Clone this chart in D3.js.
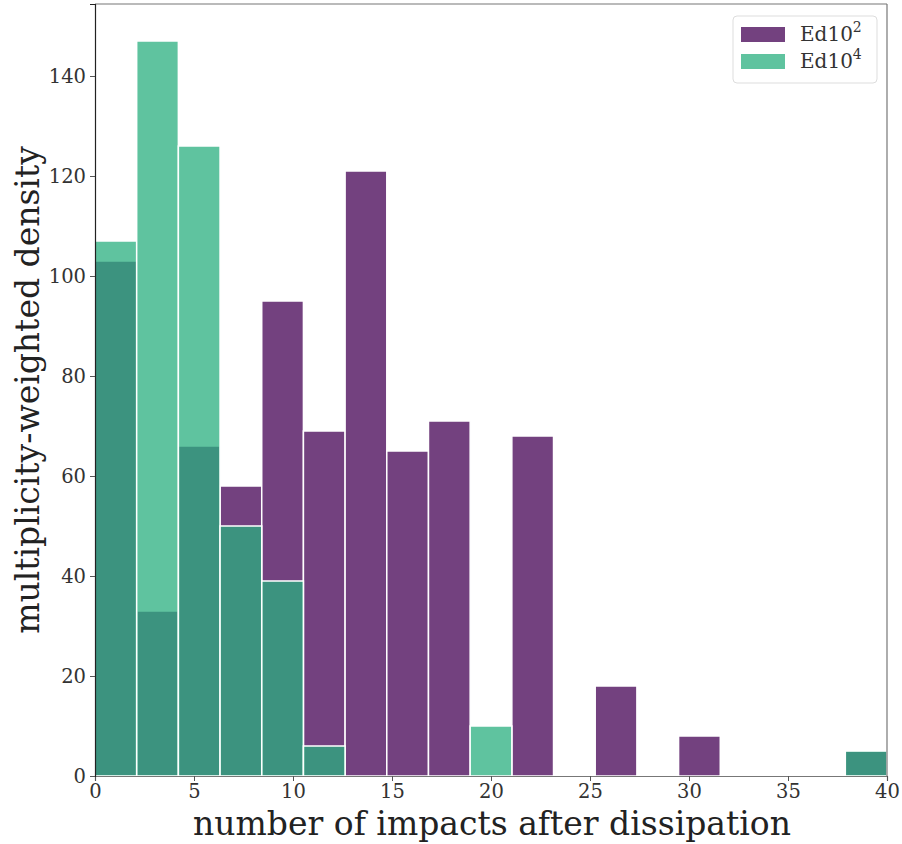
<!DOCTYPE html>
<html>
<head>
<meta charset="utf-8">
<script src="https://cdn.jsdelivr.net/npm/d3@7"></script>
<style>
body{margin:0;background:#fff;}
svg{display:block;font-family:"DejaVu Serif",serif;}
</style>
</head>
<body>
<svg id="chart" width="902" height="844"></svg>
<script>
const binCount = 19;
const xDomain = [0, 40];
const seriesNames = ["Ed10", "Ed10"];
const seriesExp = ["2", "4"];
const ed102 = [103, 33, 66, 58, 95, 69, 121, 65, 71, 0, 68, 0, 18, 0, 8, 0, 0, 0, 5];
const ed104 = [107, 147, 126, 50, 39, 6, 0, 0, 0, 10, 0, 0, 0, 0, 0, 0, 0, 0, 5];
const xTicks = [0, 5, 10, 15, 20, 25, 30, 35, 40];
const yTicks = [0, 20, 40, 60, 80, 100, 120, 140];
const colors = ["#440154", "#29af7f"];

const svg = d3.select("#chart");
const m = {left: 95, right: 15, top: 4, bottom: 68};
const W = 902, H = 844;
const x = d3.scaleLinear().domain(xDomain).range([m.left, W - m.right]);
const y = d3.scaleLinear().domain([0, 154.4]).range([H - m.bottom, m.top]);
const bw = (xDomain[1] - xDomain[0]) / binCount;

[ed102, ed104].forEach((vals, si) => {
  svg.append("g").selectAll("rect").data(vals.map((v, i) => ({v, i})).filter(d => d.v > 0))
    .join("rect")
    .attr("x", d => x(d.i * bw))
    .attr("width", d => x((d.i + 1) * bw) - x(d.i * bw))
    .attr("y", d => y(d.v))
    .attr("height", d => y(0) - y(d.v))
    .attr("fill", colors[si])
    .attr("fill-opacity", 0.75)
    .attr("stroke", "#fff")
    .attr("stroke-width", 1.5);
});

// spines
svg.append("line").attr("x1", x(0)).attr("x2", x(40)).attr("y1", m.top).attr("y2", m.top).attr("stroke", "#777").attr("stroke-width", 1.2);
svg.append("line").attr("x1", x(40)).attr("x2", x(40)).attr("y1", m.top).attr("y2", y(0)).attr("stroke", "#777").attr("stroke-width", 1.2);

const xAxis = svg.append("g").attr("transform", `translate(0,${y(0)})`)
  .call(d3.axisBottom(x).tickValues(xTicks).tickSize(5).tickPadding(3));
const yAxis = svg.append("g").attr("transform", `translate(${x(0)},0)`)
  .call(d3.axisLeft(y).tickValues(yTicks).tickSize(5).tickPadding(4));
xAxis.select(".domain").attr("stroke", "#777").attr("stroke-width", 1.2);
yAxis.select(".domain").attr("stroke", "#222").attr("stroke-width", 1.2);
[xAxis, yAxis].forEach(a => {
  a.selectAll("text").attr("font-family", "DejaVu Serif").attr("font-size", 19.5).attr("fill", "#333");
  a.selectAll(".tick line").attr("stroke", "#555");
});

svg.append("text").attr("x", (x(0) + x(40)) / 2 + 1).attr("y", 835)
  .attr("text-anchor", "middle").attr("font-size", 33).attr("fill", "#222")
  .text("number of impacts after dissipation");
svg.append("text").attr("transform", `translate(39,${(y(0) + m.top) / 2}) rotate(-90)`)
  .attr("text-anchor", "middle").attr("font-size", 33).attr("fill", "#222")
  .text("multiplicity-weighted density");

// legend
const lg = svg.append("g").attr("transform", "translate(733,16)");
lg.append("rect").attr("width", 144).attr("height", 67).attr("rx", 4)
  .attr("fill", "#fff").attr("fill-opacity", 0.8).attr("stroke", "#ddd");
seriesNames.forEach((n, i) => {
  lg.append("rect").attr("x", 8).attr("y", 11 + i * 27).attr("width", 44).attr("height", 15)
    .attr("fill", colors[i]).attr("fill-opacity", 0.75);
  const t = lg.append("text").attr("x", 67).attr("y", 25 + i * 27).attr("font-size", 20).attr("fill", "#333");
  t.append("tspan").text(n);
  t.append("tspan").attr("dy", -9).attr("font-size", 14).text(seriesExp[i]);
});
</script>
</body>
</html>
